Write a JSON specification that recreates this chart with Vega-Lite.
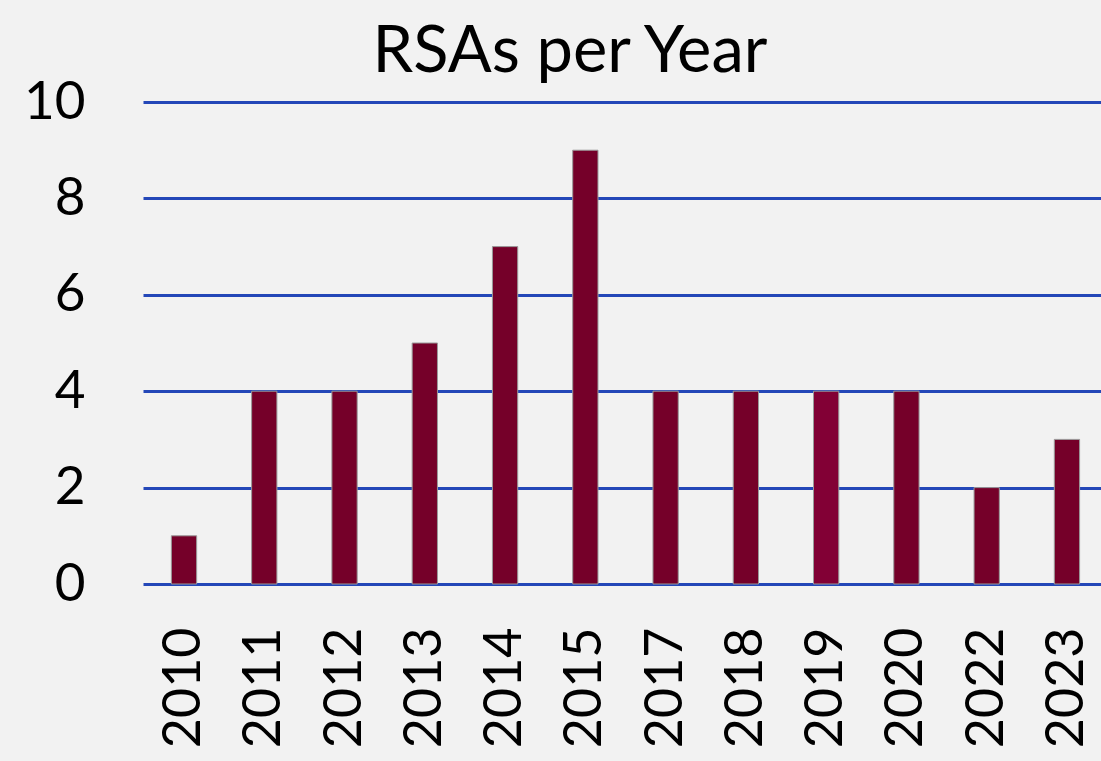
{
  "$schema": "https://vega.github.io/schema/vega-lite/v6.json",
  "width": 958,
  "height": 482,
  "autosize": {"type": "none"},
  "padding": {"left": 143, "top": 102, "right": 0, "bottom": 177},
  "background": "#f2f2f2",
  "title": {
    "text": "RSAs per Year",
    "font": "Lato",
    "fontSize": 65,
    "fontWeight": "normal",
    "color": "#000000",
    "anchor": "middle",
    "frame": "group",
    "dx": -52,
    "dy": 65,
    "baseline": "alphabetic",
    "offset": 4
  },
  "data": {
    "values": [
      {"year": "2010", "count": 1},
      {"year": "2011", "count": 4},
      {"year": "2012", "count": 4},
      {"year": "2013", "count": 5},
      {"year": "2014", "count": 7},
      {"year": "2015", "count": 9},
      {"year": "2017", "count": 4},
      {"year": "2018", "count": 4},
      {"year": "2019", "count": 4},
      {"year": "2020", "count": 4},
      {"year": "2022", "count": 2},
      {"year": "2023", "count": 3}
    ]
  },
  "config": {
    "view": {"stroke": null},
    "axis": {"labelFont": "Lato", "labelColor": "#000000"}
  },
  "mark": {"type": "bar", "stroke": "#9a9a9a", "strokeWidth": 1},
  "encoding": {
    "x": {
      "field": "year",
      "type": "nominal",
      "sort": null,
      "scale": {"paddingInner": 0.685, "paddingOuter": 0.31, "align": 0.57},
      "axis": {
        "title": null,
        "labelAngle": -90,
        "labelFontSize": 52,
        "labelPadding": 43,
        "ticks": false,
        "domain": false,
        "grid": false
      }
    },
    "y": {
      "field": "count",
      "type": "quantitative",
      "scale": {"domain": [0, 10], "nice": false},
      "axis": {
        "title": null,
        "values": [0, 2, 4, 6, 8, 10],
        "labelFontSize": 53,
        "labelPadding": 58,
        "ticks": false,
        "domain": false,
        "grid": true,
        "gridColor": "#2447b8",
        "gridWidth": 3,
        "gridOpacity": 1
      }
    },
    "color": {
      "condition": {"test": "datum.year === '2019'", "value": "#820035"},
      "value": "#750029"
    }
  }
}
